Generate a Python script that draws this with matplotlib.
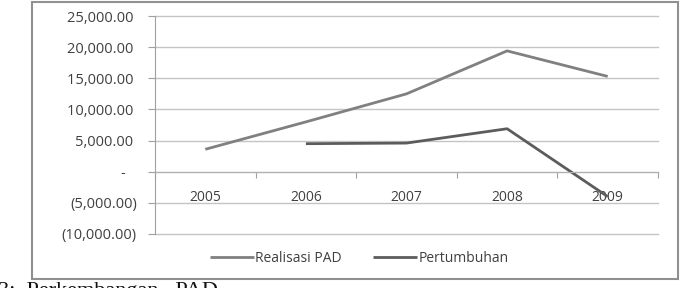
import matplotlib.pyplot as plt
from matplotlib.patches import Rectangle
from matplotlib.ticker import FixedLocator, NullFormatter

years = ["2005", "2006", "2007", "2008", "2009"]
realisasi = [3600, 8000, 12500, 19400, 15300]
pertumbuhan = [None, 4500, 4600, 6900, -4000]
yticks = [-10000, -5000, 0, 5000, 10000, 15000, 20000, 25000]


def fmt(v):
    if v == 0:
        return "-   "
    if v < 0:
        return "({:,.2f})".format(-v)
    return "{:,.2f} ".format(v)


plt.rcParams['font.family'] = ['Open Sans', 'DejaVu Sans']

W, H = 689, 288
fig = plt.figure(figsize=(W / 100, H / 100), dpi=100)
ax = fig.add_axes([155 / W, 1 - 234 / H, (658 - 155) / W, (234 - 16) / H])

xs = [i + 0.5 for i in range(len(years))]
ax.plot(xs, realisasi, color='#808080', lw=2, label='Realisasi PAD', solid_capstyle='butt')
px = [x for x, v in zip(xs, pertumbuhan) if v is not None]
pv = [v for v in pertumbuhan if v is not None]
ax.plot(px, pv, color='#5c5c5c', lw=2, label='Pertumbuhan', solid_capstyle='butt')

ax.set_xlim(0, len(years))
ax.set_ylim(-10000, 25000)
ax.set_yticks(yticks)
ax.set_yticklabels([fmt(v) for v in yticks])
ax.grid(axis='y', color='#c4c4c4', lw=1)
for gl in ax.get_ygridlines():
    gl.set_clip_on(False)
ax.set_axisbelow(True)

ax.xaxis.set_major_locator(FixedLocator(range(len(years) + 1)))
ax.xaxis.set_major_formatter(NullFormatter())
ax.xaxis.set_minor_locator(FixedLocator(xs))
ax.set_xticklabels(years, minor=True)
ax.tick_params(axis='x', which='major', length=4, color='#a0a0a0', direction='out')
ax.tick_params(axis='x', which='minor', length=0, pad=13, labelsize=10, labelcolor='#404040')
ax.tick_params(axis='y', length=5, color='#a0a0a0', pad=8, labelsize=10.5, labelcolor='#404040')

for s in ['top', 'right']:
    ax.spines[s].set_visible(False)
ax.spines['bottom'].set_position(('data', 0))
ax.spines['bottom'].set_color('#b0b0b0')
ax.spines['left'].set_color('#a0a0a0')

fig.legend(loc='center', bbox_to_anchor=(359 / W, 1 - 258 / H), ncol=2, frameon=False,
           fontsize=10, handlelength=3.2, handletextpad=0.1, columnspacing=2.2,
           labelcolor='#404040')

fig.patches.append(Rectangle((32 / W, 1 - 279 / H), (678 - 32) / W, (279 - 2) / H,
                             transform=fig.transFigure, fill=False,
                             edgecolor='#909090', lw=1.5))

fig.text(218 / W, 1 - 282 / H, "Gambar 3:  Perkembangan   PAD", ha='right', va='top',
         family=['Liberation Serif', 'DejaVu Serif'], fontsize=16, color='#111111')

fig.savefig('out.png', dpi=100)
